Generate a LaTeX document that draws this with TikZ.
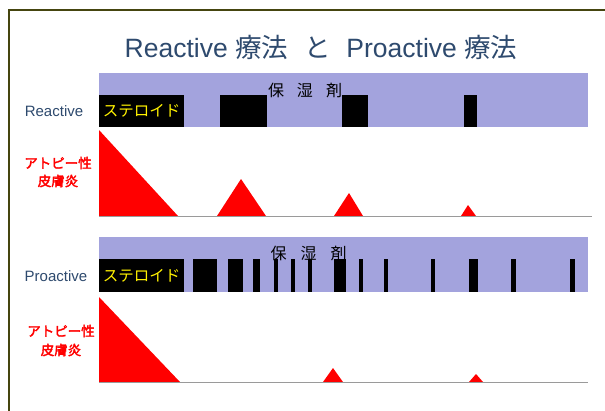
\documentclass[tikz,border=0pt]{standalone}
\usepackage{fontspec}
\setmainfont{Liberation Sans}
\newfontfamily\cjk{Noto Sans CJK JP}
\newfontfamily\cjkb{Noto Sans CJK JP}[FakeBold=2.5]
\definecolor{lav}{HTML}{A3A3DD}
\definecolor{titleblue}{HTML}{2E4A6E}
\definecolor{frameol}{HTML}{45450F}
\definecolor{basegray}{HTML}{9A9A9A}
\tikzset{
  lavbar/.style={fill=lav},
  blkbar/.style={fill=black},
  flare/.style={fill=red},
  baseln/.style={draw=basegray, line width=1.2pt},
  txt/.style={inner sep=0pt, outer sep=0pt},
  steroidtxt/.style={txt, text=yellow, font=\cjk\fontsize{15.5}{16}\selectfont},
  moisttxt/.style={txt, text=black, font=\cjk\fontsize{16}{16}\selectfont},
  rowlabel/.style={txt, text=titleblue, font=\fontsize{15}{16}\selectfont},
  redlabel/.style={txt, text=red, font=\cjkb\fontsize{13.5}{14}\selectfont},
}
\begin{document}
\begin{tikzpicture}[x=1pt,y=-1pt]
\useasboundingbox (0,0) rectangle (605,410);
\fill[white] (0,0) rectangle (605,410);
% frame
\draw[frameol, line width=2pt] (606,10) -- (8.5,10) -- (8.5,411);
% title
\node[txt, text=titleblue, font=\fontsize{26.5}{28}\selectfont] (title) at (321,47)
  {Reactive {\cjk 療法}\hspace{0.6em}{\cjk と}\hspace{0.6em}Proactive {\cjk 療法}};

% ===== Reactive =====
\fill[lavbar] (99,73) rectangle (588,127);
\fill[blkbar] (99,95) rectangle (184,127);
\node[steroidtxt] (rster) at (141.5,111) {ステロイド};
\foreach \a/\b in {220/267, 342/368, 464/477}
  \fill[blkbar] (\a,95) rectangle (\b,127);
\node[moisttxt] (rmoist) at (305,90) {保\hspace{13pt}湿\hspace{13pt}剤};
\node[rowlabel] (rlab) at (54,111) {Reactive};
\node[redlabel] (ratop1) at (58,163) {アトピー性};
\node[redlabel] (ratop2) at (58,181) {皮膚炎};
\fill[flare] (99,130) -- (99,216) -- (178,216) -- cycle;
\fill[flare] (217,216) -- (241,179) -- (266,216) -- cycle;
\fill[flare] (334,216) -- (349,193) -- (363,216) -- cycle;
\fill[flare] (461,216) -- (468,205) -- (476,216) -- cycle;
\draw[baseln] (99,216.5) -- (592,216.5);

% ===== Proactive =====
\fill[lavbar] (99,237) rectangle (588,292);
\fill[blkbar] (99,259) rectangle (184,292);
\node[steroidtxt] (pster) at (141.5,276) {ステロイド};
\foreach \a/\b in {193/217, 228/243, 253/260, 274/278, 291/295, 308/312, 334/346, 359/363, 384/388, 431/435, 469/478, 511/516, 570/575}
  \fill[blkbar] (\a,259) rectangle (\b,292);
\node[moisttxt] (pmoist) at (308.5,253) {保\hspace{14pt}湿\hspace{14pt}剤};
\node[rowlabel] (plab) at (56,276) {Proactive};
\node[redlabel] (patop1) at (61,331) {アトピー性};
\node[redlabel] (patop2) at (61,350) {皮膚炎};
\fill[flare] (99,297) -- (99,382) -- (180,382) -- cycle;
\fill[flare] (323,382) -- (333,368) -- (343,382) -- cycle;
\fill[flare] (469,382) -- (476,374) -- (483,382) -- cycle;
\draw[baseln] (99,382.5) -- (588,382.5);
\end{tikzpicture}
\end{document}
